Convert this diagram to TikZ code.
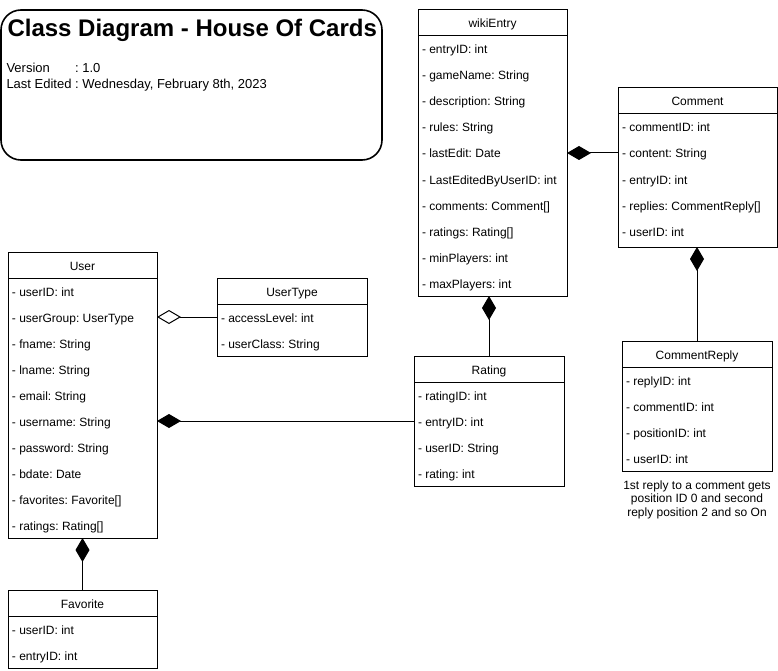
\documentclass[tikz,border=0pt]{standalone}
\usepackage{fontspec}
\setmainfont{Liberation Sans}
\usetikzlibrary{positioning,fit,arrows.meta}
\frenchspacing

\begin{document}
\begin{tikzpicture}[x=1pt,y=-1pt,line width=1pt,
  head/.style={rectangle,draw,minimum width=#1,minimum height=26pt,inner sep=0pt,outer sep=0pt,text height=11pt,text depth=1pt,font=\fontsize{12}{14}\selectfont},
  row/.style={below=0pt of #1.south west,anchor=north west,minimum height=26pt,inner xsep=4pt,inner ysep=0pt,outer sep=0pt,text height=11pt,text depth=1pt,font=\fontsize{12}{14}\selectfont},
  box/.style={rectangle,draw,inner sep=0pt,outer sep=0pt},
  comp/.style={-{Diamond[length=24pt,width=14pt]}},
  aggr/.style={-{Diamond[open,length=24pt,width=14pt,fill=white]}}]
\useasboundingbox (0,0) rectangle (778,671);

% title block
\node [rectangle,draw,rounded corners=20pt,line width=1.6pt,minimum width=381pt,minimum height=150pt] (titlebox) at (191.5,85) {};
\node [anchor=base west,inner sep=0pt,font=\fontsize{24}{28}\selectfont\bfseries] (title) at (7,37) {Class Diagram - House Of Cards};
\node [anchor=base west,inner sep=0pt,font=\fontsize{13}{16}\selectfont] (info) at (6,73)
  {\begin{tabular}[t]{@{}l@{ }l@{}}Version & : 1.0\\ Last Edited & : Wednesday, February 8th, 2023\end{tabular}};

% wikiEntry
\node [head=149pt] (wikiHead) at (492.5,23) {wikiEntry};
\node [row=wikiHead] (wiki1) {- entryID: int};
\node [row=wiki1] (wiki2) {- gameName: String};
\node [row=wiki2] (wiki3) {- description: String};
\node [row=wiki3] (wiki4) {- rules: String};
\node [row=wiki4] (wiki5) {- lastEdit: Date};
\node [row=wiki5] (wiki6) {- LastEditedByUserID: int};
\node [row=wiki6] (wiki7) {- comments: Comment[]};
\node [row=wiki7] (wiki8) {- ratings: Rating[]};
\node [row=wiki8] (wiki9) {- minPlayers: int};
\node [row=wiki9] (wiki10) {- maxPlayers: int};
\node [box,fit=(wikiHead)(wiki10)] (wiki) {};

% Comment
\node [head=159pt] (commentHead) at (697.5,101) {Comment};
\node [row=commentHead] (comment1) {- commentID: int};
\node [row=comment1] (comment2) {- content: String};
\node [row=comment2] (comment3) {- entryID: int};
\node [row=comment3] (comment4) {- replies: CommentReply[]};
\node [row=comment4] (comment5) {- userID: int};
\node [box,fit=(commentHead)(comment5),inner ysep=1.5pt,yshift=-1.5pt] (comment) {};

% CommentReply
\node [head=150pt] (replyHead) at (697,354) {CommentReply};
\node [row=replyHead] (reply1) {- replyID: int};
\node [row=reply1] (reply2) {- commentID: int};
\node [row=reply2] (reply3) {- positionID: int};
\node [row=reply3] (reply4) {- userID: int};
\node [box,fit=(replyHead)(reply4)] (reply) {};
\node [below=9pt of reply,align=center,inner sep=0pt,font=\fontsize{12}{13.5}\selectfont] (note)
  {1st reply to a comment gets\\position ID 0 and second\\reply position 2 and so On};

% User
\node [head=149pt] (userHead) at (82.5,265) {User};
\node [row=userHead] (user1) {- userID: int};
\node [row=user1] (user2) {- userGroup: UserType};
\node [row=user2] (user3) {- fname: String};
\node [row=user3] (user4) {- lname: String};
\node [row=user4] (user5) {- email: String};
\node [row=user5] (user6) {- username: String};
\node [row=user6] (user7) {- password: String};
\node [row=user7] (user8) {- bdate: Date};
\node [row=user8] (user9) {- favorites: Favorite[]};
\node [row=user9] (user10) {- ratings: Rating[]};
\node [box,fit=(userHead)(user10)] (user) {};

% UserType
\node [head=150pt] (typeHead) at (292,291) {UserType};
\node [row=typeHead] (type1) {- accessLevel: int};
\node [row=type1] (type2) {- userClass: String};
\node [box,fit=(typeHead)(type2)] (type) {};

% Rating
\node [head=150pt] (ratingHead) at (489,369) {Rating};
\node [row=ratingHead] (rating1) {- ratingID: int};
\node [row=rating1] (rating2) {- entryID: int};
\node [row=rating2] (rating3) {- userID: String};
\node [row=rating3] (rating4) {- rating: int};
\node [box,fit=(ratingHead)(rating4)] (rating) {};

% Favorite
\node [head=149pt] (favHead) at (82.5,603) {Favorite};
\node [row=favHead] (fav1) {- userID: int};
\node [row=fav1] (fav2) {- entryID: int};
\node [box,fit=(favHead)(fav2)] (fav) {};

% relations
\draw [comp] (comment.west |- wiki5) -- (wiki.east |- wiki5);
\draw [comp] (reply.north) -- (reply.north |- comment.south);
\draw [comp] (rating.north) -- (rating.north |- wiki.south);
\draw [aggr] (type.west |- user2) -- (user.east |- user2);
\draw [comp] (rating.west |- user6) -- (user.east |- user6);
\draw [comp] (fav.north) -- (user.south);
\end{tikzpicture}
\end{document}
